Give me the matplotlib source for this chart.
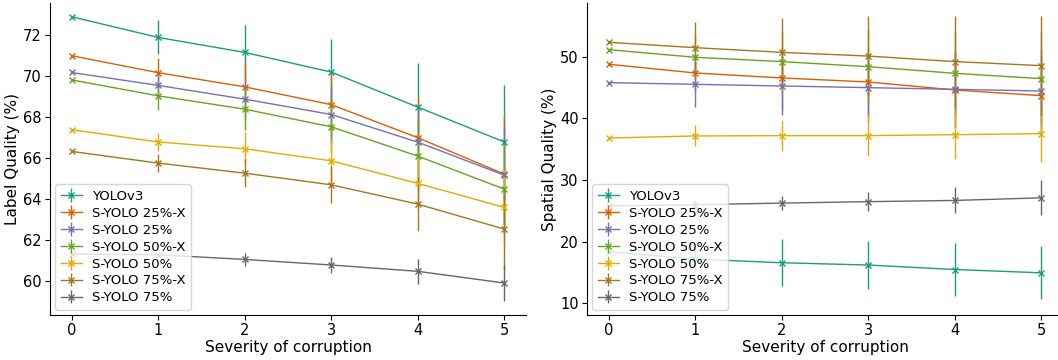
import numpy as np
import matplotlib.pyplot as plt

severity = [0, 1, 2, 3, 4, 5]
names = ["YOLOv3", "S-YOLO 25%-X", "S-YOLO 25%", "S-YOLO 50%-X",
         "S-YOLO 50%", "S-YOLO 75%-X", "S-YOLO 75%"]
dark2 = plt.get_cmap("Dark2").colors
colors = [dark2[i] for i in (0, 1, 2, 4, 5, 6, 7)]

# label quality (mean, std)
lq_mean = [
    [72.88, 71.87, 71.14, 70.18, 68.47, 66.77],
    [70.98, 70.15, 69.46, 68.59, 66.98, 65.20],
    [70.16, 69.53, 68.86, 68.11, 66.76, 65.15],
    [69.80, 69.02, 68.37, 67.51, 66.08, 64.47],
    [67.37, 66.77, 66.44, 65.85, 64.75, 63.58],
    [66.31, 65.74, 65.25, 64.68, 63.74, 62.52],
    [61.30, 61.27, 61.04, 60.77, 60.46, 59.89],
]
lq_std = [
    [0.0, 0.83, 1.33, 1.60, 2.15, 2.80],
    [0.0, 0.70, 1.20, 1.60, 2.00, 2.85],
    [0.0, 0.60, 1.00, 1.40, 1.80, 2.40],
    [0.0, 0.68, 1.00, 1.30, 1.70, 2.20],
    [0.0, 0.46, 0.80, 1.00, 1.30, 1.80],
    [0.0, 0.45, 0.67, 0.90, 1.30, 2.00],
    [0.0, 0.10, 0.33, 0.40, 0.60, 0.90],
]

# spatial quality (mean, std)
sq_mean = [
    [18.37, 17.20, 16.60, 16.23, 15.50, 14.97],
    [48.77, 47.36, 46.55, 45.90, 44.60, 43.68],
    [45.79, 45.52, 45.25, 44.98, 44.71, 44.44],
    [51.14, 49.90, 49.20, 48.38, 47.30, 46.44],
    [36.82, 37.15, 37.20, 37.20, 37.36, 37.52],
    [52.33, 51.46, 50.70, 50.10, 49.20, 48.55],
    [25.80, 26.00, 26.27, 26.50, 26.70, 27.12],
]
sq_std = [
    [0.0, 2.0, 3.8, 3.95, 4.3, 4.3],
    [0.0, 3.0, 5.0, 5.5, 6.0, 6.5],
    [0.0, 3.6, 4.7, 5.5, 6.2, 6.8],
    [0.0, 3.5, 5.0, 6.0, 6.8, 7.5],
    [0.0, 1.7, 2.5, 3.3, 4.0, 4.6],
    [0.0, 4.1, 5.5, 6.5, 7.4, 8.1],
    [0.0, 0.8, 1.1, 1.5, 2.1, 2.85],
]

fig = plt.figure(figsize=(10.58, 3.6), dpi=100)
ax1 = fig.add_axes([50 / 1058, 45 / 360, 476 / 1058, 312 / 360])
ax2 = fig.add_axes([587 / 1058, 45 / 360, 476 / 1058, 312 / 360])


def draw(ax, means, stds, ylabel, ylim):
    for i in range(len(names)):
        ax.errorbar(severity, means[i], yerr=stds[i], color=colors[i],
                    marker="x", markersize=4, linewidth=1, label=names[i])
    ax.set_xlim(-0.25, 5.25)
    ax.set_ylim(*ylim)
    ax.set_xlabel("Severity of corruption", fontsize=11, labelpad=1)
    ax.set_ylabel(ylabel, fontsize=11, labelpad=2)
    ax.tick_params(labelsize=10.5, pad=2.5)
    ax.spines["top"].set_visible(False)
    ax.spines["right"].set_visible(False)
    ax.legend(loc="lower left", fontsize=9.5, labelspacing=0.3,
              handlelength=1.6, borderaxespad=0.4)


draw(ax1, lq_mean, lq_std, "Label Quality (%)", (58.33, 73.55))
ax1.set_yticks(np.arange(60, 73, 2))
draw(ax2, sq_mean, sq_std, "Spatial Quality (%)", (8.13, 58.7))
ax2.set_yticks(np.arange(10, 51, 10))

fig.savefig("out.png", dpi=100)
